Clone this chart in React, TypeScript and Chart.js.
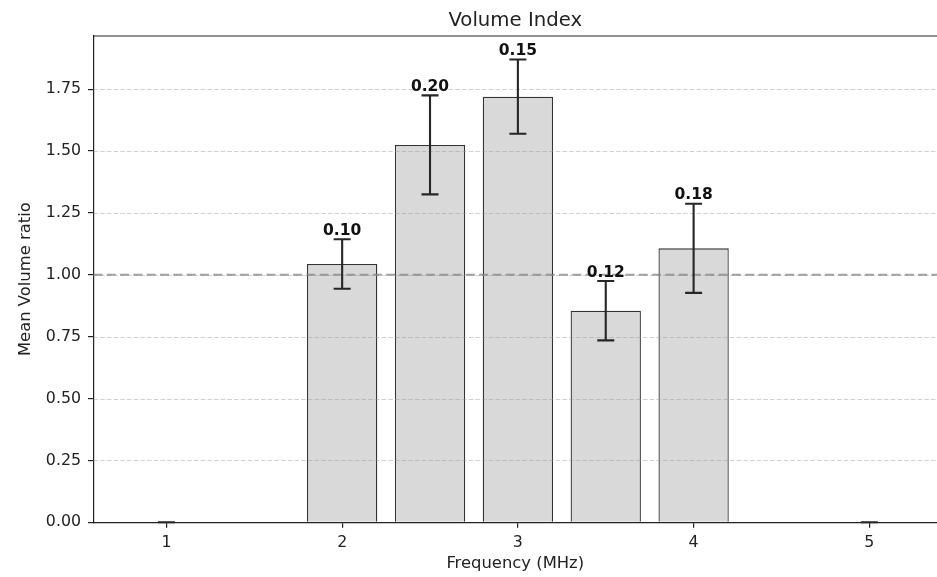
import React, { useEffect, useRef } from 'react';
import { Chart, registerables } from 'chart.js';

Chart.register(...registerables);

const TITLE = 'Volume Index';
const X_LABEL = 'Frequency (MHz)';
const Y_LABEL = 'Mean Volume ratio';

const frequencies = [1, 2, 2.5, 3, 3.5, 4, 5];
const meanRatios = [0, 1.044, 1.525, 1.72, 0.855, 1.107, 0];
const errors = [0, 0.1, 0.2, 0.15, 0.12, 0.18, 0];

const xTicks = [1, 2, 3, 4, 5];
const yTicks = [0, 0.25, 0.5, 0.75, 1.0, 1.25, 1.5, 1.75];
const referenceLevel = 1.0;

const X_MIN = 0.585;
const X_MAX = 5.385;
const Y_MIN = 0;
const Y_MAX = 1.965;

const FONT = "'DejaVu Sans', 'Liberation Sans', sans-serif";
const W = 937;
const H = 577;

const overlayPlugin = {
  id: 'overlay',
  afterDatasetsDraw(chart: any) {
    const { ctx, chartArea: a, scales } = chart;
    const x = scales.x;
    const y = scales.y;
    ctx.save();
    // grid lines
    ctx.strokeStyle = 'rgba(150,150,150,0.45)';
    ctx.lineWidth = 1;
    ctx.setLineDash([4.5, 2.2]);
    yTicks.forEach((v) => {
      if (v === 0) return;
      const py = Math.round(y.getPixelForValue(v)) + 0.5;
      ctx.beginPath();
      ctx.moveTo(a.left, py);
      ctx.lineTo(a.right, py);
      ctx.stroke();
    });
    // reference line
    ctx.strokeStyle = 'rgba(130,130,130,0.75)';
    ctx.lineWidth = 2;
    ctx.setLineDash([9, 4.3]);
    const ry = y.getPixelForValue(referenceLevel);
    ctx.beginPath();
    ctx.moveTo(a.left, ry);
    ctx.lineTo(a.right, ry);
    ctx.stroke();
    // error bars
    ctx.setLineDash([]);
    ctx.strokeStyle = '#262626';
    ctx.lineWidth = 2.1;
    frequencies.forEach((f, i) => {
      const px = x.getPixelForValue(f);
      const top = y.getPixelForValue(meanRatios[i] + errors[i]);
      const bot = y.getPixelForValue(Math.max(Y_MIN, meanRatios[i] - errors[i]));
      ctx.beginPath();
      ctx.moveTo(px, top);
      ctx.lineTo(px, bot);
      ctx.moveTo(px - 8.5, top);
      ctx.lineTo(px + 8.5, top);
      ctx.moveTo(px - 8.5, bot);
      ctx.lineTo(px + 8.5, bot);
      ctx.stroke();
    });
    // value labels
    ctx.font = `bold 15.5px ${FONT}`;
    ctx.textAlign = 'center';
    ctx.textBaseline = 'alphabetic';
    ctx.fillStyle = '#111';
    frequencies.forEach((f, i) => {
      if (errors[i] <= 0) return;
      const px = x.getPixelForValue(f);
      const top = y.getPixelForValue(meanRatios[i] + errors[i]);
      ctx.fillText(errors[i].toFixed(2), px, top - 4.5);
    });
    // top spine
    ctx.strokeStyle = '#222';
    ctx.lineWidth = 1.2;
    ctx.beginPath();
    ctx.moveTo(a.left, a.top);
    ctx.lineTo(a.right, a.top);
    ctx.stroke();
    ctx.restore();
  },
};

export default function App() {
  const ref = useRef<HTMLCanvasElement | null>(null);

  useEffect(() => {
    const canvas = ref.current;
    if (!canvas) return;
    const chart = new Chart(canvas, {
      type: 'bar',
      data: {
        datasets: [
          {
            label: 'Mean Volume ratio',
            data: frequencies.map((f, i) => ({ x: f, y: meanRatios[i] })),
            backgroundColor: '#d9d9d9',
            borderColor: '#333333',
            borderWidth: 1.3,
            borderSkipped: 'start',
            categoryPercentage: 0.8,
            barPercentage: 1.0,
          } as any,
        ],
      },
      options: {
        responsive: false,
        animation: false,
        devicePixelRatio: 1,
        layout: { padding: 0 },
        plugins: {
          legend: { display: false },
          tooltip: { enabled: false },
          title: {
            display: true,
            text: TITLE,
            fullSize: false,
            color: '#222',
            font: { family: FONT, size: 19.7, weight: 'normal' as any },
            padding: { top: 9.5, bottom: 2.86 },
          },
        },
        scales: {
          x: {
            type: 'linear',
            min: X_MIN,
            max: X_MAX,
            offset: false,
            afterBuildTicks: (scale: any) => {
              scale.ticks = xTicks.map((v) => ({ value: v }));
            },
            afterFit: (scale: any) => {
              scale.height = 54.7;
            },
            ticks: {
              color: '#222',
              font: { family: FONT, size: 15.8 },
              padding: 5.5,
              maxRotation: 0,
              callback: (v: any) => String(v),
            },
            grid: {
              display: true,
              offset: false,
              drawOnChartArea: false,
              drawTicks: true,
              tickLength: 5.5,
              color: '#222',
              lineWidth: 1.2,
            },
            border: { display: true, color: '#222', width: 1.2 },
            title: {
              display: true,
              text: X_LABEL,
              color: '#222',
              font: { family: FONT, size: 16.4 },
              padding: { top: 0, bottom: 3.2 },
            },
          },
          y: {
            type: 'linear',
            min: Y_MIN,
            max: Y_MAX,
            afterBuildTicks: (scale: any) => {
              scale.ticks = yTicks.map((v) => ({ value: v }));
            },
            afterFit: (scale: any) => {
              scale.width = 93.5;
            },
            ticks: {
              color: '#222',
              font: { family: FONT, size: 15.8 },
              padding: 7,
              callback: (v: any) => Number(v).toFixed(2),
            },
            grid: {
              display: true,
              offset: false,
              drawOnChartArea: false,
              drawTicks: true,
              tickLength: 5.5,
              color: '#222',
              lineWidth: 1.2,
            },
            border: { display: true, color: '#222', width: 1.2 },
            title: {
              display: true,
              text: Y_LABEL,
              color: '#222',
              font: { family: FONT, size: 16.4 },
              padding: { top: 16.2, bottom: 0 },
            },
          },
        },
      },
      plugins: [overlayPlugin],
    });
    return () => chart.destroy();
  }, []);

  return (
    <div style={{ position: 'fixed', left: 0, top: 0, width: W, height: H, background: '#fff' }}>
      <canvas ref={ref} width={W} height={H} style={{ display: 'block', width: W, height: H }} />
    </div>
  );
}
